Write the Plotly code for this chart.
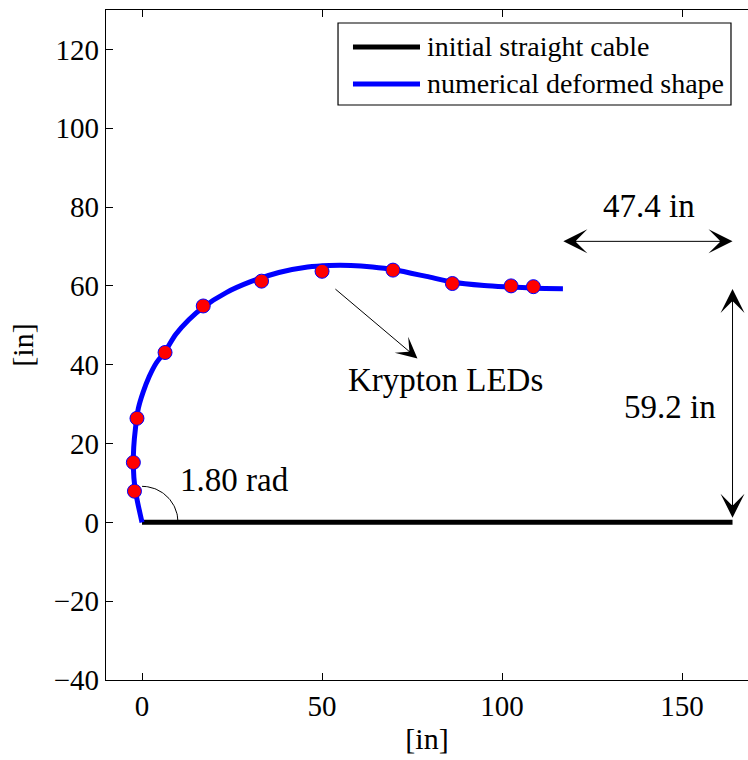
import numpy as np
import plotly.graph_objects as go

# ---- data ----
cable_x = [0, 164]
cable_y = [0, 0]

shape_x = [0, -1.2, -2.0, -2.4, -2.3, -1.8, -1.0, 0.3, 2.0, 4.0, 6.3, 9.4, 13.0, 17.0,
           23.4, 30.0, 38.0, 46.0, 52.0, 58.0, 64.0, 70.0, 79.0, 86.0, 95.0, 102.5, 109.0, 116.9]
shape_y = [0, 5.0, 9.0, 14.0, 19.0, 24.0, 29.0, 33.0, 37.0, 40.5, 43.2, 47.7, 51.4, 54.6,
           58.3, 61.0, 63.4, 64.8, 65.2, 65.2, 64.8, 64.1, 62.4, 61.0, 60.1, 59.7, 59.4, 59.3]

led_x = [-2.1, -2.4, -1.4, 6.4, 17.0, 33.2, 50.0, 69.7, 86.2, 102.5, 108.7]
led_y = [7.9, 15.2, 26.4, 43.1, 54.9, 61.2, 63.7, 64.0, 60.6, 60.0, 59.8]

legend_names = ["initial straight cable", "numerical deformed shape"]
legend_colors = ["black", "#0000ff"]

angle_rad = 1.80
horiz_gap = 47.4
vert_gap = 59.2

x_ticks = [0, 50, 100, 150]
y_ticks = [-40, -20, 0, 20, 40, 60, 80, 100, 120]

FONT = "Liberation Serif, Times New Roman, serif"

fig = go.Figure()

fig.add_trace(go.Scatter(x=cable_x, y=cable_y, mode="lines",
                         line=dict(color=legend_colors[0], width=5),
                         name=legend_names[0], showlegend=False))
fig.add_trace(go.Scatter(x=shape_x, y=shape_y, mode="lines",
                         line=dict(color=legend_colors[1], width=5, shape="spline", smoothing=0.8),
                         name=legend_names[1], showlegend=False))
fig.add_trace(go.Scatter(x=led_x, y=led_y, mode="markers",
                         marker=dict(color="#ff0000", size=14,
                                     line=dict(color="#0000ff", width=1)),
                         name="Krypton LEDs", showlegend=False))

# angle arc (decoration)
t = np.linspace(0, 1.57, 40)
fig.add_trace(go.Scatter(x=10 * np.cos(t), y=9.14 * np.sin(t), mode="lines",
                         line=dict(color="black", width=1), showlegend=False,
                         hoverinfo="skip"))

# top axis (mirror line with inside ticks)
fig.add_trace(go.Scatter(x=[None], y=[None], xaxis="x2", showlegend=False))

annos = []
x_end = cable_x[1]
annos.append(dict(x=x_end, y=71.3, ax=x_end - horiz_gap, ay=71.3, xref="x", yref="y",
                  axref="x", ayref="y", text="", showarrow=True, arrowside="end+start",
                  arrowhead=3, startarrowhead=3, arrowsize=4, startarrowsize=4,
                  arrowwidth=1, arrowcolor="black"))
annos.append(dict(x=x_end, y=vert_gap, ax=x_end, ay=0.8, xref="x", yref="y",
                  axref="x", ayref="y", text="", showarrow=True, arrowside="end+start",
                  arrowhead=3, startarrowhead=3, arrowsize=4, startarrowsize=4,
                  arrowwidth=1, arrowcolor="black"))
annos.append(dict(x=76.5, y=41.6, ax=53.3, ay=59.5, xref="x", yref="y",
                  axref="x", ayref="y", text="", showarrow=True,
                  arrowhead=3, arrowsize=3.5, arrowwidth=1, arrowcolor="black"))
for txt, xx, yy in [(f"{horiz_gap} in", 140.7, 80.3), (f"{vert_gap} in", 146.7, 29.2),
                    ("Krypton LEDs", 84.3, 36.0), (f"{angle_rad:.2f} rad", 25.8, 10.7)]:
    annos.append(dict(x=xx, y=yy, xref="x", yref="y", text=txt, showarrow=False,
                      font=dict(family=FONT, size=33, color="black"),
                      xanchor="center", yanchor="middle"))

# legend (drawn in paper coordinates)
shapes = [dict(type="rect", xref="paper", yref="paper", x0=0.3614, x1=0.9735,
               y0=0.8582, y1=0.9806, line=dict(color="black", width=1.2),
               fillcolor="white", layer="above")]
row_y = [0.9448, 0.8896]
for name, col, ry in zip(legend_names, legend_colors, row_y):
    shapes.append(dict(type="line", xref="paper", yref="paper", x0=0.3847, x1=0.4891,
                       y0=ry, y1=ry, line=dict(color=col, width=5), layer="above"))
    annos.append(dict(x=0.4975, y=ry, xref="paper", yref="paper", text=name,
                      showarrow=False, xanchor="left", yanchor="middle",
                      font=dict(family=FONT, size=28, color="black")))

fig.update_layout(
    width=748, height=760,
    margin=dict(l=106, r=0, t=10, b=80, pad=0),
    paper_bgcolor="white", plot_bgcolor="white",
    font=dict(family=FONT, size=29, color="black"),
    annotations=annos, shapes=shapes,
    showlegend=False,
    xaxis=dict(range=[-10, 168.3], tickvals=x_ticks, ticks="inside", ticklen=7,
               tickwidth=1, tickcolor="black", showline=True, linecolor="black",
               linewidth=1.3, showgrid=False, zeroline=False,
               title=dict(text="[in]", font=dict(size=30), standoff=7),
               tickfont=dict(size=29)),
    xaxis2=dict(overlaying="x", matches="x", side="top", tickvals=x_ticks,
                ticks="inside", ticklen=7, tickwidth=1, tickcolor="black",
                showline=True, linecolor="black", linewidth=1.3,
                showticklabels=False, showgrid=False, zeroline=False),
    yaxis=dict(range=[-40, 130], tickvals=y_ticks, ticks="inside", ticklen=7,
               tickwidth=1, tickcolor="black", showline=True, linecolor="black",
               linewidth=1.3, showgrid=False, zeroline=False,
               title=dict(text="[in]", font=dict(size=30), standoff=11),
               tickfont=dict(size=29)),
)

fig.write_html("out.html")
